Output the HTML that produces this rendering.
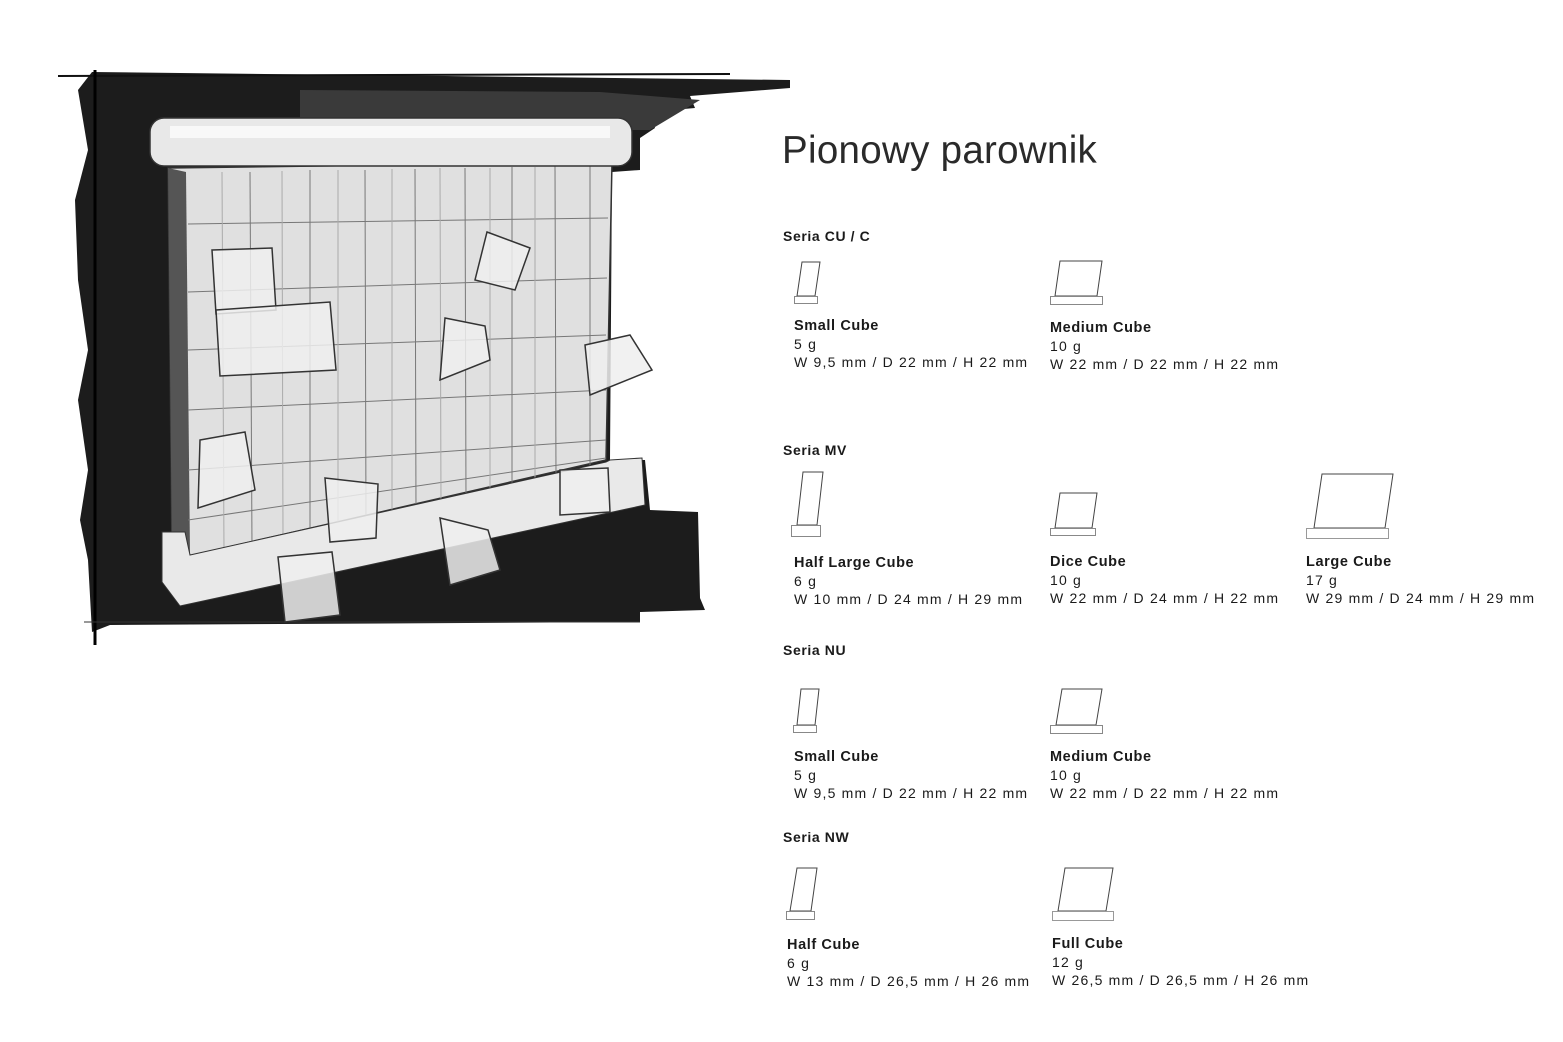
<!DOCTYPE html>
<html><head><meta charset="utf-8"><style>
body{margin:0;background:#fff;width:1563px;height:1042px;overflow:hidden;position:relative;font-family:"Liberation Sans",sans-serif;color:#1a1a1a}
.t{position:absolute;white-space:nowrap}
.title{left:782px;top:129px;font-size:38.5px;color:#2a2a2a;letter-spacing:0.3px}
.h{font-size:14px;font-weight:bold;letter-spacing:0.6px}
.it{position:absolute;font-size:14px;line-height:18px;letter-spacing:1.2px;white-space:nowrap}
.it b{letter-spacing:0.6px;font-size:14.5px}
svg{position:absolute;left:0;top:0}
</style></head><body>
<svg width="1563" height="1042">
<polygon fill="#1c1c1c" points="92,72 790,80 790,88 690,96 695,108 650,112 655,128 640,138 640,170 612,172 610,460 645,460 650,510 698,512 700,598 705,610 640,612 640,622 110,625 92,632 88,560 80,520 88,470 78,400 88,350 78,280 75,200 88,150 78,90"/>
<polygon fill="#3a3a3a" points="300,90 600,92 700,100 650,130 300,130"/>
<line x1="58" y1="76" x2="730" y2="74" stroke="#111" stroke-width="2"/>
<line x1="95" y1="70" x2="95" y2="645" stroke="#000" stroke-width="3"/>
<line x1="84" y1="622" x2="640" y2="622" stroke="#333" stroke-width="1"/>
<polygon fill="#e0e0e0" stroke="#333" stroke-width="1.5" points="168,168 612,162 606,460 172,560"/>
<polygon fill="#555" points="168,168 186,172 190,555 172,560"/>
<g stroke="#777" stroke-width="1" fill="none">
<line x1="188" y1="224" x2="608" y2="218"/>
<line x1="188" y1="292" x2="607" y2="278"/>
<line x1="188" y1="350" x2="606" y2="335"/>
<line x1="188" y1="410" x2="606" y2="390"/>
<line x1="188" y1="470" x2="606" y2="440"/>
<line x1="188" y1="520" x2="606" y2="458"/>
<line x1="250" y1="172" x2="252" y2="548"/>
<line x1="310" y1="170" x2="310" y2="535"/>
<line x1="365" y1="170" x2="366" y2="525"/>
<line x1="415" y1="169" x2="416" y2="512"/>
<line x1="465" y1="168" x2="466" y2="502"/>
<line x1="512" y1="167" x2="512" y2="492"/>
<line x1="555" y1="166" x2="556" y2="480"/>
<line x1="590" y1="165" x2="590" y2="470"/>
<line x1="222" y1="172" x2="224" y2="552" stroke="#aaa"/>
<line x1="282" y1="171" x2="283" y2="540" stroke="#aaa"/>
<line x1="338" y1="170" x2="338" y2="530" stroke="#aaa"/>
<line x1="392" y1="169" x2="392" y2="518" stroke="#aaa"/>
<line x1="440" y1="168" x2="441" y2="508" stroke="#aaa"/>
<line x1="490" y1="168" x2="490" y2="497" stroke="#aaa"/>
<line x1="535" y1="167" x2="535" y2="486" stroke="#aaa"/>
</g>
<polygon fill="#e9e9e9" stroke="#333" stroke-width="1" points="162,532 185,532 190,555 606,462 610,460 642,458 645,505 180,606 162,582"/>
<rect x="150" y="118" width="482" height="48" rx="14" fill="#e8e8e8" stroke="#333" stroke-width="1.5"/>
<rect x="170" y="126" width="440" height="12" fill="#f8f8f8"/>
<g fill="#eee" fill-opacity="0.85" stroke="#333" stroke-width="1.5">
<polygon points="212,250 272,248 276,310 216,314"/>
<polygon points="216,310 330,302 336,370 220,376"/>
<polygon points="487,232 530,248 515,290 475,280"/>
<polygon points="445,318 485,326 490,360 440,380"/>
<polygon points="585,345 630,335 652,370 590,395"/>
<polygon points="200,440 245,432 255,490 198,508"/>
<polygon points="325,478 378,484 376,538 330,542"/>
<polygon points="560,470 608,468 610,512 560,515"/>
<polygon points="440,518 488,530 500,570 450,585"/>
<polygon points="278,557 332,552 340,615 285,622"/>
</g>
</svg>
<div class="t title">Pionowy parownik</div>
<div class="t h" style="left:783px;top:228px">Seria CU / C</div>
<div class="t h" style="left:783px;top:442px">Seria MV</div>
<div class="t h" style="left:783px;top:642px">Seria NU</div>
<div class="t h" style="left:783px;top:829px">Seria NW</div>
<svg width="1563" height="1042" style="pointer-events:none">
<g fill="none" stroke="#444" stroke-width="1">
<polygon points="797,296 802,262 820,262 815,296"/><rect x="794.5" y="296.5" width="23" height="7" stroke="#888"/>
<polygon points="1055,296 1060,261 1102,261 1097,296"/><rect x="1050.5" y="296.5" width="52" height="8" stroke="#888"/>
<polygon points="797,525 803,472 823,472 817,525"/><rect x="791.5" y="525.5" width="29" height="11" stroke="#888"/>
<polygon points="1055,528 1060,493 1097,493 1092,528"/><rect x="1050.5" y="528.5" width="45" height="7" stroke="#888"/>
<polygon points="1314,528 1322,474 1393,474 1385,528"/><rect x="1306.5" y="528.5" width="82" height="10" stroke="#999"/>
<polygon points="797,725 801,689 819,689 815,725"/><rect x="793.5" y="725.5" width="23" height="7" stroke="#888"/>
<polygon points="1056,725 1062,689 1102,689 1096,725"/><rect x="1050.5" y="725.5" width="52" height="8" stroke="#888"/>
<polygon points="790,911 797,868 817,868 811,911"/><rect x="786.5" y="911.5" width="28" height="8" stroke="#888"/>
<polygon points="1058,911 1065,868 1113,868 1106,911"/><rect x="1052.5" y="911.5" width="61" height="9" stroke="#999"/>
</g></svg>
<div class="it" style="left:794px;top:316px"><b>Small Cube</b><br>5 g<br>W 9,5 mm / D 22 mm / H 22 mm</div>
<div class="it" style="left:1050px;top:318px"><b>Medium Cube</b><br>10 g<br>W 22 mm / D 22 mm / H 22 mm</div>
<div class="it" style="left:794px;top:553px"><b>Half Large Cube</b><br>6 g<br>W 10 mm / D 24 mm / H 29 mm</div>
<div class="it" style="left:1050px;top:552px"><b>Dice Cube</b><br>10 g<br>W 22 mm / D 24 mm / H 22 mm</div>
<div class="it" style="left:1306px;top:552px"><b>Large Cube</b><br>17 g<br>W 29 mm / D 24 mm / H 29 mm</div>
<div class="it" style="left:794px;top:747px"><b>Small Cube</b><br>5 g<br>W 9,5 mm / D 22 mm / H 22 mm</div>
<div class="it" style="left:1050px;top:747px"><b>Medium Cube</b><br>10 g<br>W 22 mm / D 22 mm / H 22 mm</div>
<div class="it" style="left:787px;top:935px"><b>Half Cube</b><br>6 g<br>W 13 mm / D 26,5 mm / H 26 mm</div>
<div class="it" style="left:1052px;top:934px"><b>Full Cube</b><br>12 g<br>W 26,5 mm / D 26,5 mm / H 26 mm</div>
</body></html>
